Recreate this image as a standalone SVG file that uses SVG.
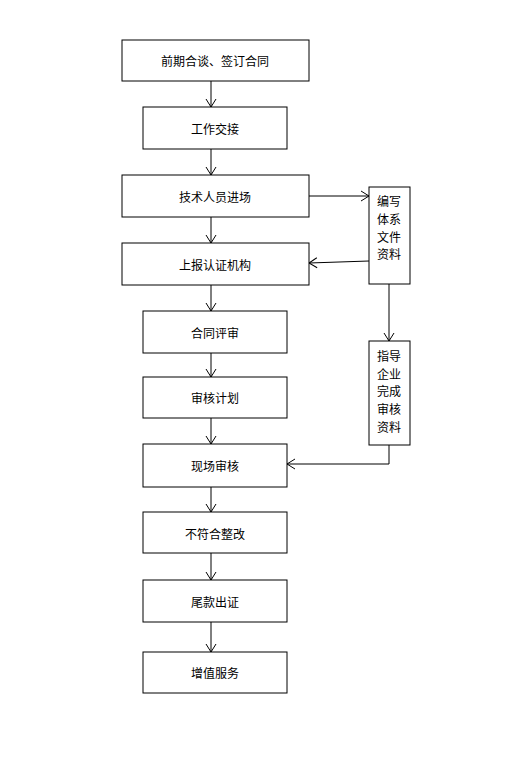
<svg xmlns="http://www.w3.org/2000/svg" width="521" height="762" viewBox="0 0 521 762">
<style>
.box{fill:#fff;stroke:#000;stroke-width:1}
.t{font-family:"Noto Sans CJK SC","Liberation Sans",sans-serif;font-size:12px;fill:#000;text-anchor:middle;dominant-baseline:central}
.c{fill:none;stroke:#000;stroke-width:1}
</style>
<defs>
<marker id="ah" markerWidth="10" markerHeight="12" refX="9" refY="6" orient="auto" markerUnits="userSpaceOnUse">
<path d="M1,1 L9,6 L1,11" fill="none" stroke="#000" stroke-width="1"/>
</marker>
</defs>
<rect width="521" height="762" fill="#fff"/>
<g id="connectors">
<line class="c" x1="211" y1="81" x2="211" y2="107" marker-end="url(#ah)"/>
<line class="c" x1="211" y1="149" x2="211" y2="175" marker-end="url(#ah)"/>
<line class="c" x1="211" y1="217" x2="211" y2="243" marker-end="url(#ah)"/>
<line class="c" x1="211" y1="285" x2="211" y2="311" marker-end="url(#ah)"/>
<line class="c" x1="211" y1="353" x2="211" y2="377" marker-end="url(#ah)"/>
<line class="c" x1="211" y1="418" x2="211" y2="444" marker-end="url(#ah)"/>
<line class="c" x1="211" y1="487" x2="211" y2="512" marker-end="url(#ah)"/>
<line class="c" x1="211" y1="553" x2="211" y2="580" marker-end="url(#ah)"/>
<line class="c" x1="211" y1="622" x2="211" y2="652" marker-end="url(#ah)"/>
<line class="c" x1="309" y1="196" x2="369" y2="196" marker-end="url(#ah)"/>
<line class="c" x1="369" y1="261" x2="309" y2="263" marker-end="url(#ah)"/>
<line class="c" x1="389" y1="284" x2="389" y2="341" marker-end="url(#ah)"/>
<polyline class="c" points="389,445 389,464 287,464" marker-end="url(#ah)"/>
</g>
<g id="n1"><rect class="box" x="122" y="40" width="187" height="41"/><text class="t" x="215" y="60">前期合谈、签订合同</text></g>
<g id="n2"><rect class="box" x="143" y="107" width="144" height="42"/><text class="t" x="215" y="128">工作交接</text></g>
<g id="n3"><rect class="box" x="122" y="175" width="187" height="42"/><text class="t" x="215" y="196">技术人员进场</text></g>
<g id="n4"><rect class="box" x="122" y="243" width="187" height="42"/><text class="t" x="215" y="264">上报认证机构</text></g>
<g id="n5"><rect class="box" x="143" y="311" width="144" height="42"/><text class="t" x="215" y="332">合同评审</text></g>
<g id="n6"><rect class="box" x="143" y="377" width="144" height="41"/><text class="t" x="215" y="397">审核计划</text></g>
<g id="n7"><rect class="box" x="143" y="444" width="144" height="43"/><text class="t" x="215" y="465">现场审核</text></g>
<g id="n8"><rect class="box" x="143" y="512" width="144" height="41"/><text class="t" x="215" y="533">不符合整改</text></g>
<g id="n9"><rect class="box" x="143" y="580" width="144" height="42"/><text class="t" x="215" y="601">尾款出证</text></g>
<g id="n10"><rect class="box" x="143" y="652" width="144" height="41"/><text class="t" x="215" y="672">增值服务</text></g>
<g id="sA"><rect class="box" x="369" y="187" width="41" height="97"/>
<text class="t" x="389" y="200">编写</text><text class="t" x="389" y="218">体系</text><text class="t" x="389" y="236">文件</text><text class="t" x="389" y="253">资料</text></g>
<g id="sB"><rect class="box" x="369" y="341" width="41" height="104"/>
<text class="t" x="389" y="355">指导</text><text class="t" x="389" y="373">企业</text><text class="t" x="389" y="390">完成</text><text class="t" x="389" y="408">审核</text><text class="t" x="389" y="426">资料</text></g>
</svg>
